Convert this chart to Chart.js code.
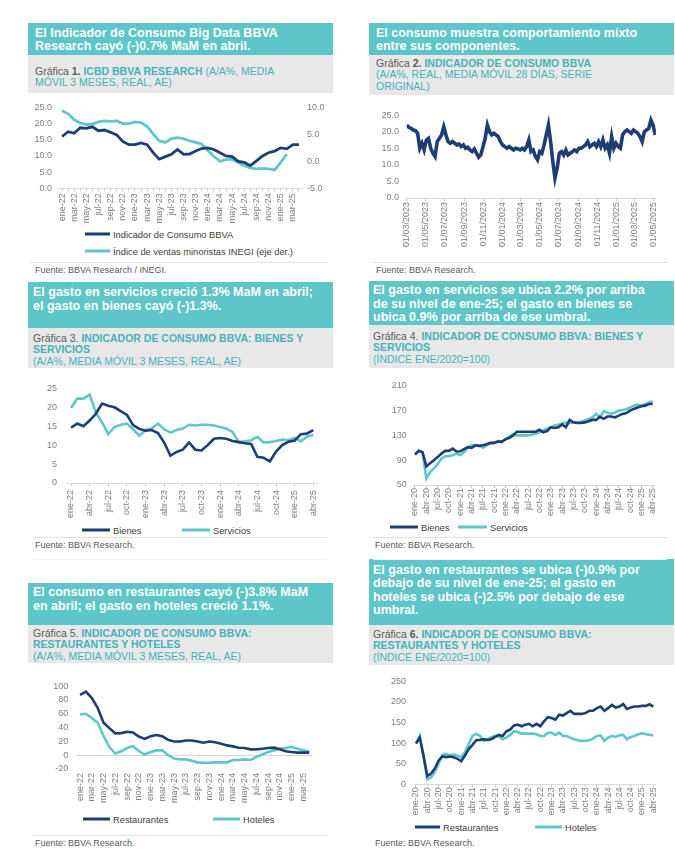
<!DOCTYPE html>
<html lang="es">
<head>
<meta charset="utf-8">
<script src="https://cdn.jsdelivr.net/npm/chart.js@4.4.1/dist/chart.umd.min.js"></script>
<style>
body{margin:0;width:675px;height:860px;background:#fff;position:relative;overflow:hidden;font-family:"Liberation Sans",Arial,sans-serif}
.tit{position:absolute;box-sizing:border-box;background:#5ec5c8;color:#fff;font-weight:bold;font-size:12.5px;white-space:nowrap}
.sub{position:absolute;box-sizing:border-box;background:#e8e8e8;color:#45b2b7;font-size:10.5px;line-height:11.7px;white-space:nowrap}
.sub .g{color:#595959}
canvas{position:absolute}
.ley{position:absolute;font-size:9.3px;color:#404040;line-height:11px;white-space:nowrap;transform:translateY(-50%)}
.ley span{display:inline-block;height:3px;vertical-align:middle;margin-right:3px;position:relative;top:-1px}
.fte{position:absolute;font-size:9px;color:#595959;white-space:nowrap;transform:translateY(-50%)}
.sep{position:absolute;height:1px;background:#e2e2e2}
</style>
</head>
<body>

<div class="tit" style="left:28px;top:23px;width:305px;height:32px;padding:4px 0 0 7px;line-height:12.5px">El Indicador de Consumo Big Data BBVA<br>Research cayó (-)0.7% MaM en abril.</div>
<div class="sub" style="left:28px;top:55px;width:305px;height:38px;padding:10.5px 0 0 7px"><span class="g">Gráfica <b>1.</b></span> <b>ICBD BBVA RESEARCH</b> (A/A%, MEDIA<br>MÓVIL 3 MESES, REAL, AE)</div>

<div class="tit" style="left:369px;top:23px;width:305px;height:32px;padding:4px 0 0 7px;line-height:13px">El consumo muestra comportamiento mixto<br>entre sus componentes.</div>
<div class="sub" style="left:369px;top:55px;width:305px;height:40px;padding:2.6px 0 0 7px"><span class="g">Gráfica <b>2.</b></span> <b>INDICADOR DE CONSUMO BBVA</b><br>(A/A%, REAL, MEDIA MÓVIL 28 DÍAS, SERIE<br>ORIGINAL)</div>

<div class="tit" style="left:28px;top:282px;width:305px;height:46px;padding:4.4px 0 0 5px;line-height:13.5px">El gasto en servicios creció 1.3% MaM en abril;<br>el gasto en bienes cayó (-)1.3%.</div>
<div class="sub" style="left:28px;top:328px;width:305px;height:40px;padding:4.6px 0 0 5px"><span class="g">Gráfica 3.</span> <b>INDICADOR DE CONSUMO BBVA: BIENES Y<br>SERVICIOS</b><br>(A/A%, MEDIA MÓVIL 3 MESES, REAL, AE)</div>

<div class="tit" style="left:369px;top:281px;width:305px;height:44px;padding:3px 0 0 4px;line-height:13.5px">El gasto en servicios se ubica 2.2% por arriba<br>de su nivel de ene-25; el gasto en bienes se<br>ubica 0.9% por arriba de ese umbral.</div>
<div class="sub" style="left:369px;top:325px;width:305px;height:43px;padding:5.6px 0 0 4px"><span class="g">Gráfica 4.</span> <b>INDICADOR DE CONSUMO BBVA: BIENES Y<br>SERVICIOS</b><br>(ÍNDICE ENE/2020=100)</div>

<div class="tit" style="left:28px;top:583px;width:305px;height:42px;padding:2px 0 0 5px;line-height:14px">El consumo en restaurantes cayó (-)3.8% MaM<br>en abril; el gasto en hoteles creció 1.1%.</div>
<div class="sub" style="left:28px;top:625px;width:305px;height:38px;padding:2.6px 0 0 5px"><span class="g">Gráfica 5.</span> <b>INDICADOR DE CONSUMO BBVA:<br>RESTAURANTES Y HOTELES</b><br>(A/A%, MEDIA MÓVIL 3 MESES, REAL, AE)</div>

<div class="tit" style="left:369px;top:559px;width:305px;height:66px;padding:5px 0 0 4px;line-height:13.4px">El gasto en restaurantes se ubica (-)0.9% por<br>debajo de su nivel de ene-25; el gasto en<br>hoteles se ubica (-)2.5% por debajo de ese<br>umbral.</div>
<div class="sub" style="left:369px;top:625px;width:305px;height:40px;padding:3.6px 0 0 4px"><span class="g">Gráfica <b>6.</b></span> <b>INDICADOR DE CONSUMO BBVA:<br>RESTAURANTES Y HOTELES</b><br>(ÍNDICE ENE/2020=100)</div>

<canvas id="g1"></canvas>
<canvas id="g2"></canvas>
<canvas id="g3"></canvas>
<canvas id="g4"></canvas>
<canvas id="g5"></canvas>
<canvas id="g6"></canvas>

<div class="sep" style="left:30px;top:262px;width:298px"></div>
<div class="sep" style="left:373px;top:262px;width:295px"></div>
<div class="sep" style="left:33px;top:537px;width:294px"></div>
<div class="sep" style="left:373px;top:537px;width:294px"></div>
<div class="sep" style="left:33px;top:559px;width:294px;background:#e4f5f5"></div>
<div class="sep" style="left:373px;top:559px;width:294px;background:#e4f5f5"></div>
<div class="sep" style="left:33px;top:835px;width:294px"></div>

<div class="fte" style="left:35px;top:270px">Fuente: BBVA Research / INEGI.</div>
<div class="fte" style="left:376px;top:270px">Fuente: BBVA Research.</div>
<div class="fte" style="left:35px;top:545px">Fuente: BBVA Research.</div>
<div class="fte" style="left:375px;top:545px">Fuente: BBVA Research.</div>
<div class="fte" style="left:35px;top:843px">Fuente: BBVA Research.</div>
<div class="fte" style="left:375px;top:843px">Fuente: BBVA Research.</div>

<script>
// Datos
const mesesCortos = ["ene","feb","mar","abr","may","jun","jul","ago","sep","oct","nov","dic"];

// Grafica 1 (ene-22 a abr-25)
const icbd = [16.0,17.5,17.0,18.7,18.5,19.0,17.8,18.0,17.3,16.5, 14.5,13.5,13.5,14.0,13.5,11.0,9.0,9.8,10.5,12.0, 10.5,10.6,11.5,12.3,12.5,12.0,11.0,10.0,9.8,8.3, 8.0,7.0,8.5,10.0,11.0,11.5,12.5,12.2,13.5,13.5];
const ventasInegi = [9.4,8.8,7.7,7.1,6.8,6.9,7.3,7.5,7.4,7.5, 7.0,7.0,7.3,7.2,6.5,5.1,3.8,3.5,4.2,4.4, 4.2,3.8,3.5,3.2,2.0,0.9,0.0,0.3,0.4,-0.2, -0.8,-1.2,-1.4,-1.3,-1.4,-1.6,-0.2,1.35,null,null];

// Grafica 2 (semanal desde 01/03/2023)
const consumo28d = [22,21.3,21,20.5,20.3,19.5,15,16.5,14.5,17.5, 18,15,13.5,12.5,17,18,19,21.5,19,17,
  16.5,17,16.5,16,16.3,15.5,16,15,15.3,14.5, 14,14.8,13.5,12.3,13,15.5,18,22,20,19,
  19.5,19,18.5,17,16,15.5,15,15.5,15,14.5, 15,14.8,14.5,15,14.5,15.5,17.5,14,14.5,12.5,
  11.5,14,13.5,16,19,22,17,11,6,9, 13.5,14,13,14.5,13,13.5,14,14.5,14,15,
  15,15.5,16,17,15.5,16,16.5,15.5,17,15.5, 17.5,15,16,13.5,18.5,15,16.5,15.5,15,19,
  20,20.5,20,19.5,20.5,20,19.5,18.5,17,20, 20.5,21,23.5,22,19];
const fechasG2 = ["01/03/2023","01/05/2023","01/07/2023","01/09/2023","01/11/2023","01/01/2024","01/03/2024","01/05/2024","01/07/2024","01/09/2024","01/11/2024","01/01/2025","01/03/2025","01/05/2025"];

// Grafica 3 (ene-22 a abr-25)
const bienes3 = [14.6,15.7,15.0,16.5,18.3,21.0,20.4,20.0,19.0,18.0, 15.3,14.3,13.8,14.0,13.2,10.7,7.2,8.2,8.8,10.7, 8.8,8.6,10.0,11.7,11.9,11.7,11.1,10.8,10.5,10.3, 6.9,6.7,5.7,8.3,10.0,10.9,11.2,12.9,13.1,14.0];
const servicios3 = [19.8,22.3,22.3,23.4,18.6,16.0,12.9,14.8,15.4,15.7, 14.2,12.5,14.0,14.4,15.7,14.2,13.3,14.0,14.4,15.4, 15.2,15.4,15.4,15.2,14.8,14.4,13.5,10.8,11.0,11.3, 12.2,10.7,10.8,11.1,11.5,11.3,11.9,11.0,12.3,12.7];

// Grafica 4 (ene-20 a abr-25)
const bienes4 = [99,105,103,80,85,90,95,100.7,105,105, 108.7,104,104.4,108,111,110,114,113,114,115.6, 118,118,120,120,123.6,126,130,136,136,136, 136,136,136,139,135,137,143,142,143,147.6, 143,155,151,150,150,151,153,155,155,160, 156.7,160.4,160.4,159,162,164.7,166,170,172.7,175, 177,178,180.7,180.7];
const servicios4 = [99,106,103,60.7,71,76.7,83.6,92.7,96.4,96.4, 98,100.7,98,103,110,114,114,114,110,114, 116.7,118,121,119,124.7,128.4,131.6,130,130,130, 130,131.6,132.7,135,138,140.7,143,146,147,148.7, 151,150,151,151,152,154,156.7,159,164.7,159, 169,167,164.7,167,170,171,172,175,178,179.6, 178,180.7,183,185];

// Grafica 5 (ene-22 a abr-25)
const restaurantes5 = [87.4,92,82.7,68.5,47.2,39.2,31.6,32,34,33, 27,23.6,27.4,29.3,27.4,22.2,19.8,19.8,21.3,21.3, 19.8,18,19.8,18.9,16.5,14.2,12.8,10.9,10.4,8.5, 8.5,9.4,10.4,10.9,8.5,5.7,4.7,3.8,3.8,3.8];
const hoteles5 = [59,60,54,47,28,11.8,2.4,5.7,10.4,13.2, 6.1,1,4.7,7,7,0,-4.7,-6.1,-6.1,-8, -10.4,-10.9,-10.9,-10.4,-10.4,-10.4,-7,-7,-6.1,-7, -2.4,1,4.7,7,9.4,10.4,11.8,9.4,7,5.7];

// Grafica 6 (ene-20 a abr-25)
const restaurantes6 = [99,113.5,70,20,26,38,58,67.5,66,67.5, 66,62,56,70,85.7,96,107,108,109.5,108, 109.5,115,120,117.5,129,133,143,145,141,145, 147,141,147,141,153,163,161,157,169,167, 173,178.6,171,171,171,173,178.6,178.6,185,189, 178.6,185,193,186.5,189,195,183,186.5,189,189, 190.5,190.5,194.4,189];
const hoteles6 = [99,117.5,66,12,16.7,30,50,71.4,73.8,70, 72,70,66,77.8,97.6,117.5,123,117.5,105.6,108, 115,117.5,116,109.5,113.5,120,129,127,123,123, 123,123,121.4,117.5,117.5,125.4,125.4,120,125.4,117.5, 117.5,113.5,109.5,107,105.6,105.6,107,111,117.5,119, 105.6,113.5,117.5,115,119,120,109.5,115,117.5,121.4, 123.8,121.4,120,119];

const NAVY = "#1d3d74", TEAL = "#5ec8c8";

Chart.defaults.font.family = '"Liberation Sans", Arial, sans-serif';
Chart.defaults.font.size = 9;
Chart.defaults.color = "#7f7f7f";

function mensual(anio, n){
    let out = [];
    for (let i = 0; i < n; i++){
        out.push(mesesCortos[i % 12] + "-" + String(anio + Math.floor(i / 12)).slice(2));
    }
    return out;
}

function linea(label, data, color, ancho, eje){
    return {label: label, data: data, borderColor: color, backgroundColor: color, borderWidth: ancho || 2.5,
            pointRadius: 0, tension: 0, fill: false, yAxisID: eje || "y", spanGaps: false};
}

function ejeX(labels, paso, tl, pad){
    return {
        type: "category", offset: true,
        grid: {display: true, drawOnChartArea: false, drawTicks: tl > 0, tickLength: tl,
               tickColor: c => (c.index % paso === 0 ? "#c8c8c8" : "transparent")},
        border: {display: true, color: "#d9d9d9"},
        ticks: {autoSkip: false, maxRotation: 90, minRotation: 90, padding: pad,
                callback: (v, i) => (i % paso === 0 ? labels[i] : "")}
    };
}

function ejeY(min, max, paso, dec, pad, pos){
    return {
        position: pos || "left", min: min, max: max,
        grid: {display: false, drawTicks: false},
        border: {display: false},
        ticks: {stepSize: paso, padding: pad, callback: v => v.toFixed(dec)}
    };
}

// caja: canvas en la pagina, area: zona del grafico en la pagina
function crear(id, caja, area, config){
    const [cx, cy, cw, ch] = caja;
    const [L, T, R, B] = area;
    const cv = document.getElementById(id);
    cv.width = cw; cv.height = ch;
    cv.style.left = cx + "px"; cv.style.top = cy + "px";
    cv.style.width = cw + "px"; cv.style.height = ch + "px";
    const sc = config.options.scales;
    sc.x.afterFit = s => { s.height = cy + ch - B; };
    sc.y.afterFit = s => { s.width = L - cx; };
    if (sc.y2) sc.y2.afterFit = s => { s.width = cx + cw - R; };
    config.options.layout = {padding: {top: T - cy, left: 0, bottom: 0, right: sc.y2 ? 0 : cx + cw - R}};
    config.options.responsive = false;
    config.options.animation = false;
    config.options.plugins = {legend: {display: false}, tooltip: {enabled: false}};
    return new Chart(cv, config);
}

function leyenda(chart, pos){
    chart.data.datasets.forEach((ds, i) => {
        let d = document.createElement("div");
        d.className = "ley";
        d.style.left = pos[i][0] + "px";
        d.style.top = pos[i][1] + "px";
        d.innerHTML = `<span style="background:${ds.borderColor};width:${pos[i][2]}px"></span>${ds.label}`;
        document.body.appendChild(d);
    });
}

// GRAFICA 1
const meses22 = mensual(2022, 40);
const c1 = crear("g1", [28, 95, 305, 133], [59, 105.7, 302, 188.3], {
    type: "line",
    data: {labels: meses22, datasets: [
        linea("Indicador de Consumo BBVA", icbd, NAVY, 2.8),
        linea("Índice de ventas minoristas INEGI (eje der.)", ventasInegi, TEAL, 2.8, "y2")
    ]},
    options: {scales: {
        x: ejeX(meses22, 2, 3, 2),
        y: ejeY(0, 25, 5, 1, 7),
        y2: ejeY(-5, 10, 5, 1, 5, "right")
    }}
});
c1.options.scales.x.grid.tickColor = "#c8c8c8";
c1.update();
leyenda(c1, [[85, 235, 25], [85, 252, 25]]);

// GRAFICA 2
const inicioG2 = Date.UTC(2023, 2, 1);
const diasG2 = fechasG2.map(f => {
    let p = f.split("/");
    return Math.round((Date.UTC(+p[2], +p[1] - 1, +p[0]) - inicioG2) / 86400000);
});
const c2 = crear("g2", [368, 102, 302, 148], [406.7, 115, 655.9, 198], {
    type: "line",
    data: {datasets: [
        linea("Indicador de Consumo BBVA", consumo28d.map((v, i) => ({x: i * 7, y: v})), NAVY, 3.6)
    ]},
    options: {scales: {
        x: {type: "linear", min: 0, max: 800,
            afterBuildTicks: s => { s.ticks = diasG2.map(v => ({value: v})); },
            grid: {display: true, drawOnChartArea: false, tickLength: 3, tickColor: "#c8c8c8"},
            border: {display: true, color: "#d9d9d9"},
            ticks: {autoSkip: false, maxRotation: 90, minRotation: 90, padding: 1,
                    callback: (v, i) => fechasG2[i]}},
        y: ejeY(0, 25, 5, 1, 7.7)
    }}
});

// GRAFICA 3
const c3 = crear("g3", [28, 372, 305, 150], [67.9, 383, 316.4, 483], {
    type: "line",
    data: {labels: meses22, datasets: [
        linea("Bienes", bienes3, NAVY, 2.6),
        linea("Servicios", servicios3, TEAL, 2.6)
    ]},
    options: {scales: {
        x: ejeX(meses22, 3, 3, 4),
        y: ejeY(0, 25, 5, 0, 11)
    }}
});
leyenda(c3, [[82, 531, 28], [182, 531, 28]]);

// GRAFICA 4
const meses20 = mensual(2020, 64);
const c4 = crear("g4", [368, 374, 302, 148], [413.1, 385, 654.6, 485], {
    type: "line",
    data: {labels: meses20, datasets: [
        linea("Bienes", bienes4, NAVY, 2.6),
        linea("Servicios", servicios4, TEAL, 2.6)
    ]},
    options: {scales: {
        x: ejeX(meses20, 3, 3, 0),
        y: ejeY(50, 210, 20, 0, 6.4)
    }}
});
leyenda(c4, [[390, 528, 28], [458, 528, 29]]);

// GRAFICA 5
const c5 = crear("g5", [28, 672, 305, 135], [77.1, 684.3, 312.2, 769], {
    type: "line",
    data: {labels: meses22, datasets: [
        linea("Restaurantes", restaurantes5, NAVY, 2.6),
        linea("Hoteles", hoteles5, TEAL, 2.6)
    ]},
    options: {scales: {
        x: ejeX(meses22, 2, 0, 4),
        y: ejeY(-20, 100, 20, 0, 8.8)
    }}
});
c5.options.scales.x.border.display = false;
c5.options.scales.y.grid = {display: true, drawTicks: false, color: c => (c.tick && c.tick.value === 0 ? "#d4d4d4" : "transparent")};
c5.update();
leyenda(c5, [[83, 820, 27], [213, 820, 27]]);

// GRAFICA 6
const c6 = crear("g6", [368, 668, 302, 152], [414.1, 679.3, 655.2, 784.3], {
    type: "line",
    data: {labels: meses20, datasets: [
        linea("Restaurantes", restaurantes6, NAVY, 2.6),
        linea("Hoteles", hoteles6, TEAL, 2.6)
    ]},
    options: {scales: {
        x: ejeX(meses20, 3, 3, 0),
        y: ejeY(0, 250, 50, 0, 8)
    }}
});
leyenda(c6, [[415, 828, 25], [535, 828, 27]]);
</script>
</body>
</html>
